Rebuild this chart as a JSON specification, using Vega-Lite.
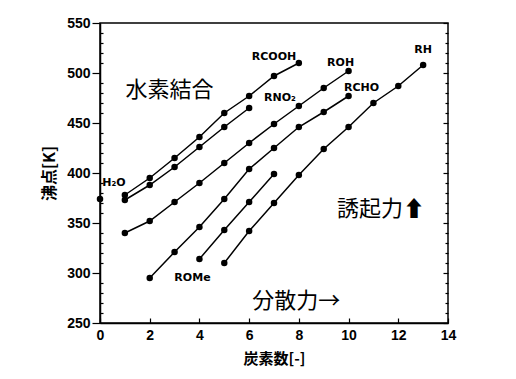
{
  "$schema": "https://vega.github.io/schema/vega-lite/v6.json",
  "width": 348,
  "height": 300,
  "autosize": {"type": "none"},
  "padding": {"left": 100, "top": 23, "right": 68, "bottom": 56},
  "background": "white",
  "config": {
    "view": {"stroke": "black", "strokeWidth": 1.5},
    "axis": {"grid": false, "domainColor": "black", "domainWidth": 1.5, "tickColor": "black", "tickWidth": 1.2, "labelColor": "black", "titleColor": "black"}
  },
  "datasets": {
    "series": [
      {"s": "H2O", "c": 0, "bp": 374},
      {"s": "RCOOH", "c": 1, "bp": 378}, {"s": "RCOOH", "c": 2, "bp": 395}, {"s": "RCOOH", "c": 3, "bp": 415}, {"s": "RCOOH", "c": 4, "bp": 436}, {"s": "RCOOH", "c": 5, "bp": 460}, {"s": "RCOOH", "c": 6, "bp": 477}, {"s": "RCOOH", "c": 7, "bp": 497}, {"s": "RCOOH", "c": 8, "bp": 510},
      {"s": "RNO2", "c": 1, "bp": 373}, {"s": "RNO2", "c": 2, "bp": 388}, {"s": "RNO2", "c": 3, "bp": 406}, {"s": "RNO2", "c": 4, "bp": 426}, {"s": "RNO2", "c": 5, "bp": 446}, {"s": "RNO2", "c": 6, "bp": 465},
      {"s": "ROH", "c": 1, "bp": 340}, {"s": "ROH", "c": 2, "bp": 352}, {"s": "ROH", "c": 3, "bp": 371}, {"s": "ROH", "c": 4, "bp": 390}, {"s": "ROH", "c": 5, "bp": 410}, {"s": "ROH", "c": 6, "bp": 430}, {"s": "ROH", "c": 7, "bp": 449}, {"s": "ROH", "c": 8, "bp": 467}, {"s": "ROH", "c": 9, "bp": 485}, {"s": "ROH", "c": 10, "bp": 502},
      {"s": "RCHO", "c": 2, "bp": 295}, {"s": "RCHO", "c": 3, "bp": 321}, {"s": "RCHO", "c": 4, "bp": 346}, {"s": "RCHO", "c": 5, "bp": 374}, {"s": "RCHO", "c": 6, "bp": 404}, {"s": "RCHO", "c": 7, "bp": 425}, {"s": "RCHO", "c": 8, "bp": 446}, {"s": "RCHO", "c": 9, "bp": 461}, {"s": "RCHO", "c": 10, "bp": 477},
      {"s": "ROMe", "c": 4, "bp": 314}, {"s": "ROMe", "c": 5, "bp": 343}, {"s": "ROMe", "c": 6, "bp": 371}, {"s": "ROMe", "c": 7, "bp": 399},
      {"s": "RH", "c": 5, "bp": 310}, {"s": "RH", "c": 6, "bp": 342}, {"s": "RH", "c": 7, "bp": 370}, {"s": "RH", "c": 8, "bp": 398}, {"s": "RH", "c": 9, "bp": 424}, {"s": "RH", "c": 10, "bp": 446}, {"s": "RH", "c": 11, "bp": 470}, {"s": "RH", "c": 12, "bp": 487}, {"s": "RH", "c": 13, "bp": 508}
    ],
    "labels": [
      {"t": "RCOOH", "c": 7.0, "bp": 516},
      {"t": "ROH", "c": 9.68, "bp": 510},
      {"t": "RNO₂", "c": 7.24, "bp": 475},
      {"t": "RCHO", "c": 10.52, "bp": 485},
      {"t": "RH", "c": 13.0, "bp": 523},
      {"t": "ROMe", "c": 3.72, "bp": 295},
      {"t": "H₂O", "c": 0.56, "bp": 390}
    ],
    "notes": [
      {"t": "水素結合", "c": 2.8, "bp": 483},
      {"t": "誘起力⬆", "c": 11.3, "bp": 364},
      {"t": "分散力→", "c": 7.9, "bp": 272}
    ]
  },
  "resolve": {"axis": {"y": "independent"}},
  "layer": [
    {
      "data": {"name": "series"},
      "mark": {"type": "line", "color": "black", "strokeWidth": 1.5},
      "encoding": {
        "x": {"field": "c", "type": "quantitative", "scale": {"domain": [0, 14], "nice": false},
          "axis": {"title": "炭素数[-]", "titleFont": "Noto Sans CJK JP", "titleFontWeight": "bold", "titleFontSize": 15, "titlePadding": 9,
            "values": [0,0.5,1,1.5,2,2.5,3,3.5,4,4.5,5,5.5,6,6.5,7,7.5,8,8.5,9,9.5,10,10.5,11,11.5,12,12.5,13,13.5,14],
            "labelExpr": "datum.value % 2 === 0 ? datum.label : ''", "labelOverlap": false, "labelFlush": false,
            "labelFont": "Liberation Sans", "labelFontWeight": "bold", "labelFontSize": 14, "labelPadding": 10,
            "tickSize": {"condition": {"test": "datum.value % 2 === 0", "value": -5}, "value": -3}}},
        "y": {"field": "bp", "type": "quantitative", "scale": {"domain": [250, 550], "nice": false, "zero": false},
          "axis": {"title": "沸点[K]", "titleFont": "Noto Sans CJK JP", "titleFontWeight": "bold", "titleFontSize": 16, "titlePadding": 9,
            "values": [250,260,270,280,290,300,310,320,330,340,350,360,370,380,390,400,410,420,430,440,450,460,470,480,490,500,510,520,530,540,550],
            "labelExpr": "datum.value % 50 === 0 ? datum.label : ''", "labelOverlap": false, "labelFlush": false,
            "labelFont": "Liberation Sans", "labelFontWeight": "bold", "labelFontSize": 14, "labelPadding": 2,
            "tickSize": {"condition": {"test": "datum.value % 50 === 0", "value": 8}, "value": -3}}},
        "detail": {"field": "s"}
      }
    },
    {
      "data": {"name": "series"},
      "mark": {"type": "point", "filled": true, "color": "black", "size": 42, "opacity": 1},
      "encoding": {
        "x": {"field": "c", "type": "quantitative", "title": "炭素数[-]"},
        "y": {"field": "bp", "type": "quantitative",
          "axis": {"orient": "right", "title": null, "labels": false, "domain": false,
            "values": [250,260,270,280,290,300,310,320,330,340,350,360,370,380,390,400,410,420,430,440,450,460,470,480,490,500,510,520,530,540,550],
            "tickSize": {"condition": {"test": "datum.value % 50 === 0", "value": -5}, "value": -3}}}
      }
    },
    {
      "data": {"name": "labels"},
      "mark": {"type": "text", "font": "DejaVu Sans", "fontSize": 11, "fontWeight": "bold", "color": "black", "align": "center", "baseline": "middle"},
      "encoding": {
        "x": {"field": "c", "type": "quantitative", "title": "炭素数[-]"},
        "y": {"field": "bp", "type": "quantitative", "axis": null},
        "text": {"field": "t"}
      }
    },
    {
      "data": {"name": "notes"},
      "mark": {"type": "text", "font": "Noto Sans CJK JP", "fontSize": 22, "color": "black", "align": "center", "baseline": "middle"},
      "encoding": {
        "x": {"field": "c", "type": "quantitative", "title": "炭素数[-]"},
        "y": {"field": "bp", "type": "quantitative", "axis": null},
        "text": {"field": "t"}
      }
    }
  ]
}
